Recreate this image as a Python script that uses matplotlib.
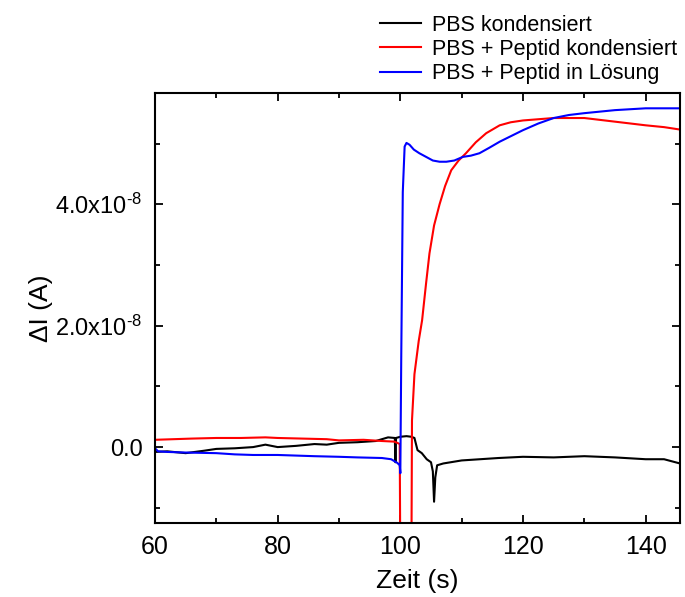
import numpy as np
import matplotlib
matplotlib.use('Agg')
import matplotlib.pyplot as plt
from matplotlib.ticker import MultipleLocator, FuncFormatter

plt.rcParams['font.family'] = ['Liberation Sans', 'DejaVu Sans']
plt.rcParams['mathtext.default'] = 'regular'

#%% data, current in units of 1e-8 A
t_black = [60, 62, 65, 68, 70, 73, 76, 78, 80, 83, 86, 88, 90, 93, 96, 98, 99.1, 99.2, 99.3,
           100, 101, 101.8, 102.3, 102.8, 103.5, 104.3, 105, 105.3, 105.5, 105.7, 106, 107,
           110, 113, 116, 120, 125, 130, 135, 140, 143, 145.6]
i_black = [-0.08, -0.07, -0.1, -0.06, -0.03, -0.02, 0.0, 0.04, 0.0, 0.02, 0.05, 0.04, 0.07, 0.08,
           0.1, 0.16, 0.15, -0.25, 0.15, 0.17, 0.18, 0.17, 0.15, -0.05, -0.1, -0.2, -0.25, -0.4,
           -0.9, -0.5, -0.3, -0.27, -0.22, -0.2, -0.18, -0.16, -0.17, -0.15, -0.17, -0.2, -0.2, -0.27]

t_red = [60, 63, 66, 70, 74, 78, 80, 84, 88, 90, 94, 97, 99, 99.5, 99.9, 100.0, 100.1,
         101.8, 101.9, 102.3, 103.0, 103.55, 104.2, 104.75, 105.5, 106.4, 107.3, 108.3, 109.5,
         110.7, 112.3, 114, 116.2, 118, 120, 125, 130, 135, 140, 143, 145.6]
i_red = [0.12, 0.13, 0.14, 0.15, 0.15, 0.16, 0.15, 0.14, 0.13, 0.11, 0.12, 0.1, 0.09, 0.07, 0.05,
         -2.0, -2.0, -2.0, 0.44, 1.2, 1.75, 2.09, 2.7, 3.19, 3.65, 4.0, 4.3, 4.56, 4.72,
         4.84, 5.02, 5.17, 5.3, 5.35, 5.38, 5.42, 5.42, 5.36, 5.3, 5.27, 5.23]

t_blue = [60, 60.5, 62, 65, 70, 73, 76, 80, 83, 86, 90, 93, 97, 98.5, 99.5, 99.9, 100.0,
          100.15, 100.4, 100.7, 101.0, 101.5, 102.2, 103.1, 104.2, 105.3, 106.4, 107.5,
          108.8, 110.2, 111.5, 112.9, 114.5, 116.2, 118, 120, 122.5, 125, 127.5, 130, 135,
          140, 145.6]
i_blue = [-0.02, -0.07, -0.08, -0.09, -0.1, -0.12, -0.13, -0.13, -0.14, -0.15, -0.16, -0.17,
          -0.18, -0.2, -0.26, -0.3, -0.43, 1.5, 4.2, 4.95, 5.01, 4.98, 4.9, 4.84, 4.78, 4.72,
          4.7, 4.7, 4.72, 4.78, 4.8, 4.84, 4.93, 5.03, 5.12, 5.22, 5.33, 5.42, 5.47, 5.5, 5.55,
          5.58, 5.58]

labels = ['PBS kondensiert', 'PBS + Peptid kondensiert', 'PBS + Peptid in Lösung']

#%%
fig = plt.figure(figsize=(6.85, 5.97), dpi=100)
ax = fig.add_axes([0.2263, 0.124, 0.7664, 0.72])

ax.plot(t_black, np.array(i_black) * 1e-8, color='black', lw=1.5, label=labels[0])
ax.plot(t_red, np.array(i_red) * 1e-8, color='#ff0000', lw=1.5, label=labels[1])
ax.plot(t_blue, np.array(i_blue) * 1e-8, color='#0000ff', lw=1.5, label=labels[2])

ax.set_xlim(60, 145.6)
ax.set_ylim(-1.25e-8, 5.83e-8)
ax.xaxis.set_major_locator(MultipleLocator(20))
ax.xaxis.set_minor_locator(MultipleLocator(10))
ax.yaxis.set_major_locator(MultipleLocator(2e-8))
ax.yaxis.set_minor_locator(MultipleLocator(1e-8))

def fmt(v, pos):
    if abs(v) < 1e-12:
        return '0.0'
    return '%.1fx10$^{\u2010 8}$' % (v / 1e-8)
ax.yaxis.set_major_formatter(FuncFormatter(fmt))

ax.tick_params(which='both', direction='in', top=True, right=True, width=1.3)
ax.tick_params(which='major', length=6)
ax.tick_params(which='minor', length=3.5)
ax.tick_params(axis='x', pad=9, labelsize=18)
ax.tick_params(axis='y', pad=9, labelsize=17)
for s in ax.spines.values():
    s.set_linewidth(1.5)

ax.set_xlabel('Zeit (s)', fontsize=19, labelpad=7)
ax.set_ylabel('ΔI (A)', fontsize=19, labelpad=2)

fig.legend(loc='upper left', bbox_to_anchor=(0.526, 1.008), frameon=False, fontsize=15.5,
           handlelength=1.9, labelspacing=0.15, handletextpad=0.55)

fig.savefig('out.png', dpi=100)
